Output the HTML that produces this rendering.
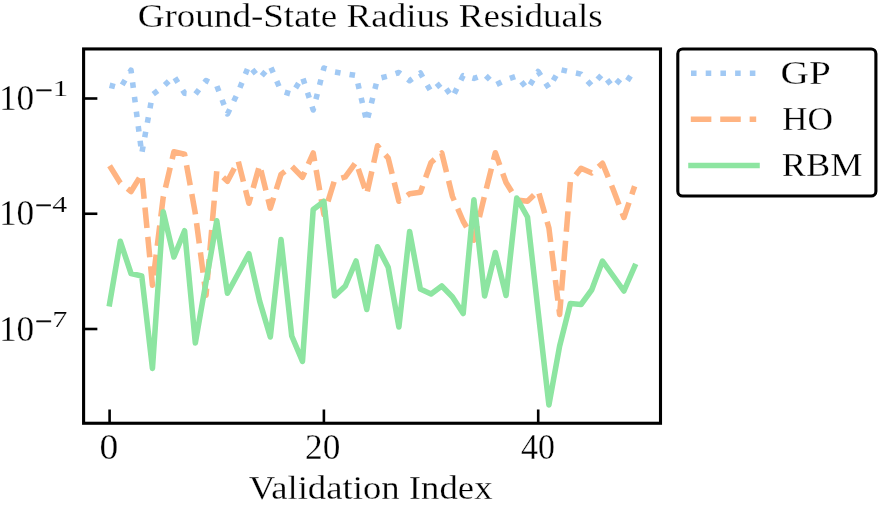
<!DOCTYPE html>
<html><head><meta charset="utf-8"><title>Ground-State Radius Residuals</title>
<style>html,body{margin:0;padding:0;background:#fff;}svg{display:block;}</style></head>
<body>
<svg width="880" height="505" viewBox="0 0 880 505" font-family='"Liberation Serif", serif' fill="#000">
<rect x="0" y="0" width="880" height="505" fill="#fff"/>
<clipPath id="c"><rect x="83.6" y="48.95" width="576.9" height="374.3"/></clipPath>
<g clip-path="url(#c)" fill="none" stroke-linejoin="round">
<path d="M109.60,85.20 L120.31,88.00 L131.03,70.20 L141.75,153.50 L152.46,94.75 L163.18,86.60 L173.89,76.10 L184.60,93.25 L195.32,94.25 L206.03,80.50 L216.75,85.75 L227.46,114.00 L238.18,92.00 L248.89,65.40 L259.61,78.25 L270.32,66.00 L281.04,91.10 L291.75,94.25 L302.47,76.90 L313.19,110.00 L323.90,68.00 L334.62,71.90 L345.33,73.75 L356.04,75.50 L366.76,122.00 L377.48,78.75 L388.19,76.10 L398.90,72.50 L409.62,80.75 L420.34,73.00 L431.05,91.70 L441.76,82.60 L452.48,97.25 L463.19,75.60 L473.91,78.40 L484.62,74.50 L495.34,85.10 L506.05,79.60 L516.77,76.00 L527.49,89.20 L538.20,71.50 L548.91,88.10 L559.63,69.40 L570.35,71.90 L581.06,74.10 L591.77,85.60 L602.49,74.00 L613.21,87.40 L623.92,75.00 L634.63,82.00" stroke="#a1c9f4" stroke-width="5.55" stroke-dasharray="5.55,9.16" stroke-linecap="butt"/>
<path d="M109.60,165.75 L120.31,183.00 L131.03,191.50 L141.75,174.00 L152.46,285.25 L163.18,197.50 L173.89,151.80 L184.60,154.30 L195.32,213.50 L206.03,295.20 L216.75,171.25 L227.46,181.25 L238.18,161.00 L248.89,203.25 L259.61,165.00 L270.32,208.25 L281.04,174.40 L291.75,166.25 L302.47,177.25 L313.19,153.00 L323.90,214.50 L334.62,180.00 L345.33,176.90 L356.04,162.10 L366.76,194.10 L377.48,145.80 L388.19,158.10 L398.90,201.25 L409.62,193.75 L420.34,192.20 L431.05,162.50 L441.76,153.00 L452.48,196.50 L463.19,221.25 L473.91,240.00 L484.62,195.50 L495.34,152.80 L506.05,182.50 L516.77,200.00 L527.49,201.25 L538.20,190.75 L548.91,228.00 L559.63,314.50 L570.35,182.00 L581.06,168.25 L591.77,173.00 L602.49,163.25 L613.21,189.50 L623.92,217.50 L634.63,186.25" stroke="#ffb482" stroke-width="5.55" stroke-dasharray="20.54,8.88" stroke-linecap="butt"/>
<path d="M109.60,303.70 L120.31,241.30 L131.03,273.50 L141.75,276.00 L152.46,368.40 L163.18,211.70 L173.89,257.00 L184.60,230.70 L195.32,343.00 L206.03,282.00 L216.75,220.70 L227.46,293.30 L238.18,273.50 L248.89,253.70 L259.61,301.00 L270.32,337.00 L281.04,239.50 L291.75,336.00 L302.47,361.40 L313.19,209.50 L323.90,201.50 L334.62,296.00 L345.33,286.00 L356.04,261.00 L366.76,309.50 L377.48,246.75 L388.19,267.25 L398.90,327.00 L409.62,231.50 L420.34,289.00 L431.05,294.00 L441.76,286.00 L452.48,297.00 L463.19,313.50 L473.91,199.75 L484.62,296.00 L495.34,252.50 L506.05,295.50 L516.77,198.00 L527.49,217.00 L538.20,312.00 L548.91,405.00 L559.63,346.00 L570.35,303.50 L581.06,304.50 L591.77,289.75 L602.49,261.00 L613.21,276.00 L623.92,291.00 L634.63,266.50" stroke="#8de5a1" stroke-width="5.55" stroke-linecap="square"/>
</g>
<g stroke="#000" fill="none">
<line x1="109.60" y1="423.25" x2="109.60" y2="409.5" stroke-width="2.6"/>
<line x1="323.90" y1="423.25" x2="323.90" y2="409.5" stroke-width="2.6"/>
<line x1="538.20" y1="423.25" x2="538.20" y2="409.5" stroke-width="2.6"/>
<line x1="83.6" y1="98.5" x2="97.35" y2="98.5" stroke-width="2.6"/>
<line x1="83.6" y1="213.75" x2="97.35" y2="213.75" stroke-width="2.6"/>
<line x1="83.6" y1="329.0" x2="97.35" y2="329.0" stroke-width="2.6"/>
<rect x="83.6" y="48.95" width="576.9" height="374.3" stroke-width="3.1"/>
<rect x="677.8" y="48.95" width="198.10000000000002" height="147.05" rx="4.8" ry="4.8" stroke-width="3.1" fill="#fff"/>
</g>
<line x1="691" y1="73.2" x2="756.5" y2="73.2" stroke="#a1c9f4" stroke-width="5.55" stroke-dasharray="5.55,9.16"/>
<line x1="690.8" y1="119.2" x2="756.2" y2="119.2" stroke="#ffb482" stroke-width="5.55" stroke-dasharray="20.54,8.88"/>
<line x1="691" y1="165.4" x2="757" y2="165.4" stroke="#8de5a1" stroke-width="5.55" stroke-linecap="square"/>
<filter id="g" x="0" y="0" width="880" height="505" filterUnits="userSpaceOnUse" color-interpolation-filters="sRGB"><feColorMatrix type="saturate" values="0"/></filter>
<g filter="url(#g)">
<text x="137.75" y="26.50" font-size="34" text-anchor="start" textLength="465.02" lengthAdjust="spacingAndGlyphs" stroke="#fff" stroke-width="0.255" paint-order="fill stroke">Ground-State Radius Residuals</text>
<text x="248.68" y="499.40" font-size="34" text-anchor="start" textLength="243.84" lengthAdjust="spacingAndGlyphs" stroke="#fff" stroke-width="0.255" paint-order="fill stroke">Validation Index</text>
<text x="99.40" y="458.90" font-size="36.6" text-anchor="start" textLength="18.78" lengthAdjust="spacingAndGlyphs" stroke="#fff" stroke-width="0.275" paint-order="fill stroke">0</text>
<text x="305.04" y="458.90" font-size="36.6" text-anchor="start" textLength="35.24" lengthAdjust="spacingAndGlyphs" stroke="#fff" stroke-width="0.275" paint-order="fill stroke">20</text>
<text x="520.94" y="458.90" font-size="36.6" text-anchor="start" textLength="33.92" lengthAdjust="spacingAndGlyphs" stroke="#fff" stroke-width="0.275" paint-order="fill stroke">40</text>
<text x="-1.08" y="110.20" font-size="35.5" text-anchor="start" textLength="35.34" lengthAdjust="spacingAndGlyphs" stroke="#fff" stroke-width="0.266" paint-order="fill stroke">10</text>
<text x="35.32" y="96.30" font-size="23.5" text-anchor="start" textLength="32.92" lengthAdjust="spacingAndGlyphs" stroke="#fff" stroke-width="0.176" paint-order="fill stroke"><tspan dy="1.7" stroke="#000" stroke-width=".5">−</tspan><tspan dy="-1.7">1</tspan></text>
<text x="-1.08" y="225.45" font-size="35.5" text-anchor="start" textLength="35.34" lengthAdjust="spacingAndGlyphs" stroke="#fff" stroke-width="0.266" paint-order="fill stroke">10</text>
<text x="35.35" y="211.55" font-size="23.5" text-anchor="start" textLength="31.70" lengthAdjust="spacingAndGlyphs" stroke="#fff" stroke-width="0.176" paint-order="fill stroke"><tspan dy="1.7" stroke="#000" stroke-width=".5">−</tspan><tspan dy="-1.7">4</tspan></text>
<text x="-1.08" y="340.70" font-size="35.5" text-anchor="start" textLength="35.34" lengthAdjust="spacingAndGlyphs" stroke="#fff" stroke-width="0.266" paint-order="fill stroke">10</text>
<text x="35.27" y="326.80" font-size="23.5" text-anchor="start" textLength="32.23" lengthAdjust="spacingAndGlyphs" stroke="#fff" stroke-width="0.176" paint-order="fill stroke"><tspan dy="1.7" stroke="#000" stroke-width=".5">−</tspan><tspan dy="-1.7">7</tspan></text>
<text x="780.63" y="84.10" font-size="34" text-anchor="start" textLength="50.15" lengthAdjust="spacingAndGlyphs" stroke="#fff" stroke-width="0.255" paint-order="fill stroke">GP</text>
<text x="782.11" y="130.10" font-size="34" text-anchor="start" textLength="51.01" lengthAdjust="spacingAndGlyphs" stroke="#fff" stroke-width="0.255" paint-order="fill stroke">HO</text>
<text x="781.89" y="175.80" font-size="34" text-anchor="start" textLength="80.58" lengthAdjust="spacingAndGlyphs" stroke="#fff" stroke-width="0.255" paint-order="fill stroke">RBM</text>
</g>
</svg>
</body></html>
